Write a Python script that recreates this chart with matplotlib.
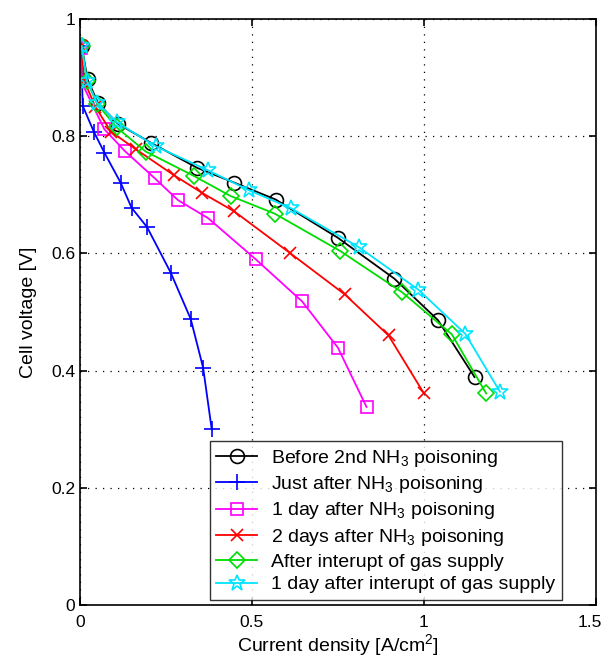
import matplotlib
matplotlib.use('Agg')
from matplotlib import pyplot as plt
from matplotlib.transforms import ScaledTranslation

plt.rcParams['font.family'] = ['Liberation Sans', 'DejaVu Sans']
plt.rcParams['mathtext.fontset'] = 'custom'
plt.rcParams['mathtext.rm'] = 'Liberation Sans'
plt.rcParams['mathtext.it'] = 'Liberation Sans'

# 데이터
x_before = [0.005, 0.022, 0.053, 0.111, 0.206, 0.341, 0.448, 0.569, 0.749, 0.914, 1.041, 1.147]
y_before = [0.954, 0.897, 0.856, 0.821, 0.789, 0.746, 0.721, 0.692, 0.627, 0.557, 0.486, 0.389]

x_just = [0.003, 0.008, 0.040, 0.071, 0.118, 0.150, 0.195, 0.264, 0.322, 0.358, 0.383]
y_just = [0.954, 0.852, 0.808, 0.772, 0.721, 0.678, 0.645, 0.567, 0.488, 0.405, 0.300]

x_1day = [0.003, 0.003, 0.071, 0.130, 0.218, 0.285, 0.373, 0.511, 0.646, 0.750, 0.833]
y_1day = [0.950, 0.894, 0.812, 0.775, 0.728, 0.691, 0.660, 0.590, 0.518, 0.439, 0.338]

x_2day = [0.004, 0.012, 0.045, 0.090, 0.162, 0.272, 0.356, 0.448, 0.610, 0.770, 0.897, 0.999]
y_2day = [0.954, 0.895, 0.850, 0.808, 0.778, 0.734, 0.703, 0.672, 0.601, 0.530, 0.460, 0.362]

x_gas = [0.005, 0.020, 0.050, 0.107, 0.191, 0.332, 0.438, 0.566, 0.757, 0.936, 1.081, 1.181]
y_gas = [0.954, 0.895, 0.855, 0.815, 0.774, 0.732, 0.698, 0.668, 0.604, 0.534, 0.462, 0.361]

x_gas1 = [0.005, 0.020, 0.050, 0.107, 0.220, 0.372, 0.491, 0.614, 0.810, 0.984, 1.120, 1.221]
y_gas1 = [0.954, 0.895, 0.857, 0.824, 0.783, 0.742, 0.708, 0.677, 0.611, 0.538, 0.463, 0.364]

x_ticks = [0, 0.5, 1, 1.5]
x_ticklabels = ['0', '0.5', '1', '1.5']
y_ticks = [0, 0.2, 0.4, 0.6, 0.8, 1]
y_ticklabels = ['0', '0.2', '0.4', '0.6', '0.8', '1']

fig = plt.figure(figsize=(6.05, 6.59), dpi=100)
ax = fig.add_axes([0.1322, 0.082, 0.8528, 0.889])

ax.plot(x_before, y_before, 'k-', marker='o', ms=10, mfc='none', mew=1.2, lw=1.3,
        label='Before 2nd NH$_3$ poisoning')
ax.plot(x_just, y_just, color='#0000ff', marker='+', ms=12, mew=1.2, lw=1.3,
        label='Just after NH$_3$ poisoning')
ax.plot(x_1day, y_1day, color='#ff00ff', marker='s', ms=9, mfc='none', mew=1.2, lw=1.3,
        label='1 day after NH$_3$ poisoning')
ax.plot(x_2day, y_2day, color='#ff0000', marker='x', ms=9, mew=1.2, lw=1.3,
        label='2 days after NH$_3$ poisoning')
ax.plot(x_gas, y_gas, color='#00dd00', marker='D', ms=8, mfc='none', mew=1.2, lw=1.3,
        label='After interupt of gas supply')
ax.plot(x_gas1, y_gas1, color='#00e5ff', marker='*', ms=12, mfc='none', mew=1.2, lw=1.3,
        label='1 day after interupt of gas supply')

ax.set_xlim(0, 1.5)
ax.set_ylim(0, 1)
ax.set_xticks(x_ticks)
ax.set_xticklabels(x_ticklabels)
ax.set_yticks(y_ticks)
ax.set_yticklabels(y_ticklabels)
ax.tick_params(direction='in', length=5, labelsize=12.5, top=True, right=True, width=1.2)
ax.tick_params(axis='x', pad=7)
ax.grid(True, ls=(0, (1, 5)), color='black', lw=0.9)
for s in ax.spines.values():
    s.set_linewidth(1.2)

## 1.5 라벨이 잘리지 않도록 왼쪽으로 살짝 이동
lab = ax.get_xticklabels()[-1]
lab.set_transform(lab.get_transform() + ScaledTranslation(-6 / 100, 0, fig.dpi_scale_trans))

ax.set_xlabel('Current density [A/cm$^2$]', fontsize=14, labelpad=2)
ax.set_ylabel('Cell voltage [V]', fontsize=14, labelpad=10)

leg = ax.legend(loc='lower right', bbox_to_anchor=(0.934, 0.008), borderaxespad=0,
                fontsize=14, frameon=True, fancybox=False, edgecolor='black',
                handlelength=2.1, labelspacing=0.27, borderpad=0.35, handletextpad=0.7)
leg.get_frame().set_linewidth(1.0)

plt.savefig('out.png', dpi=100)
